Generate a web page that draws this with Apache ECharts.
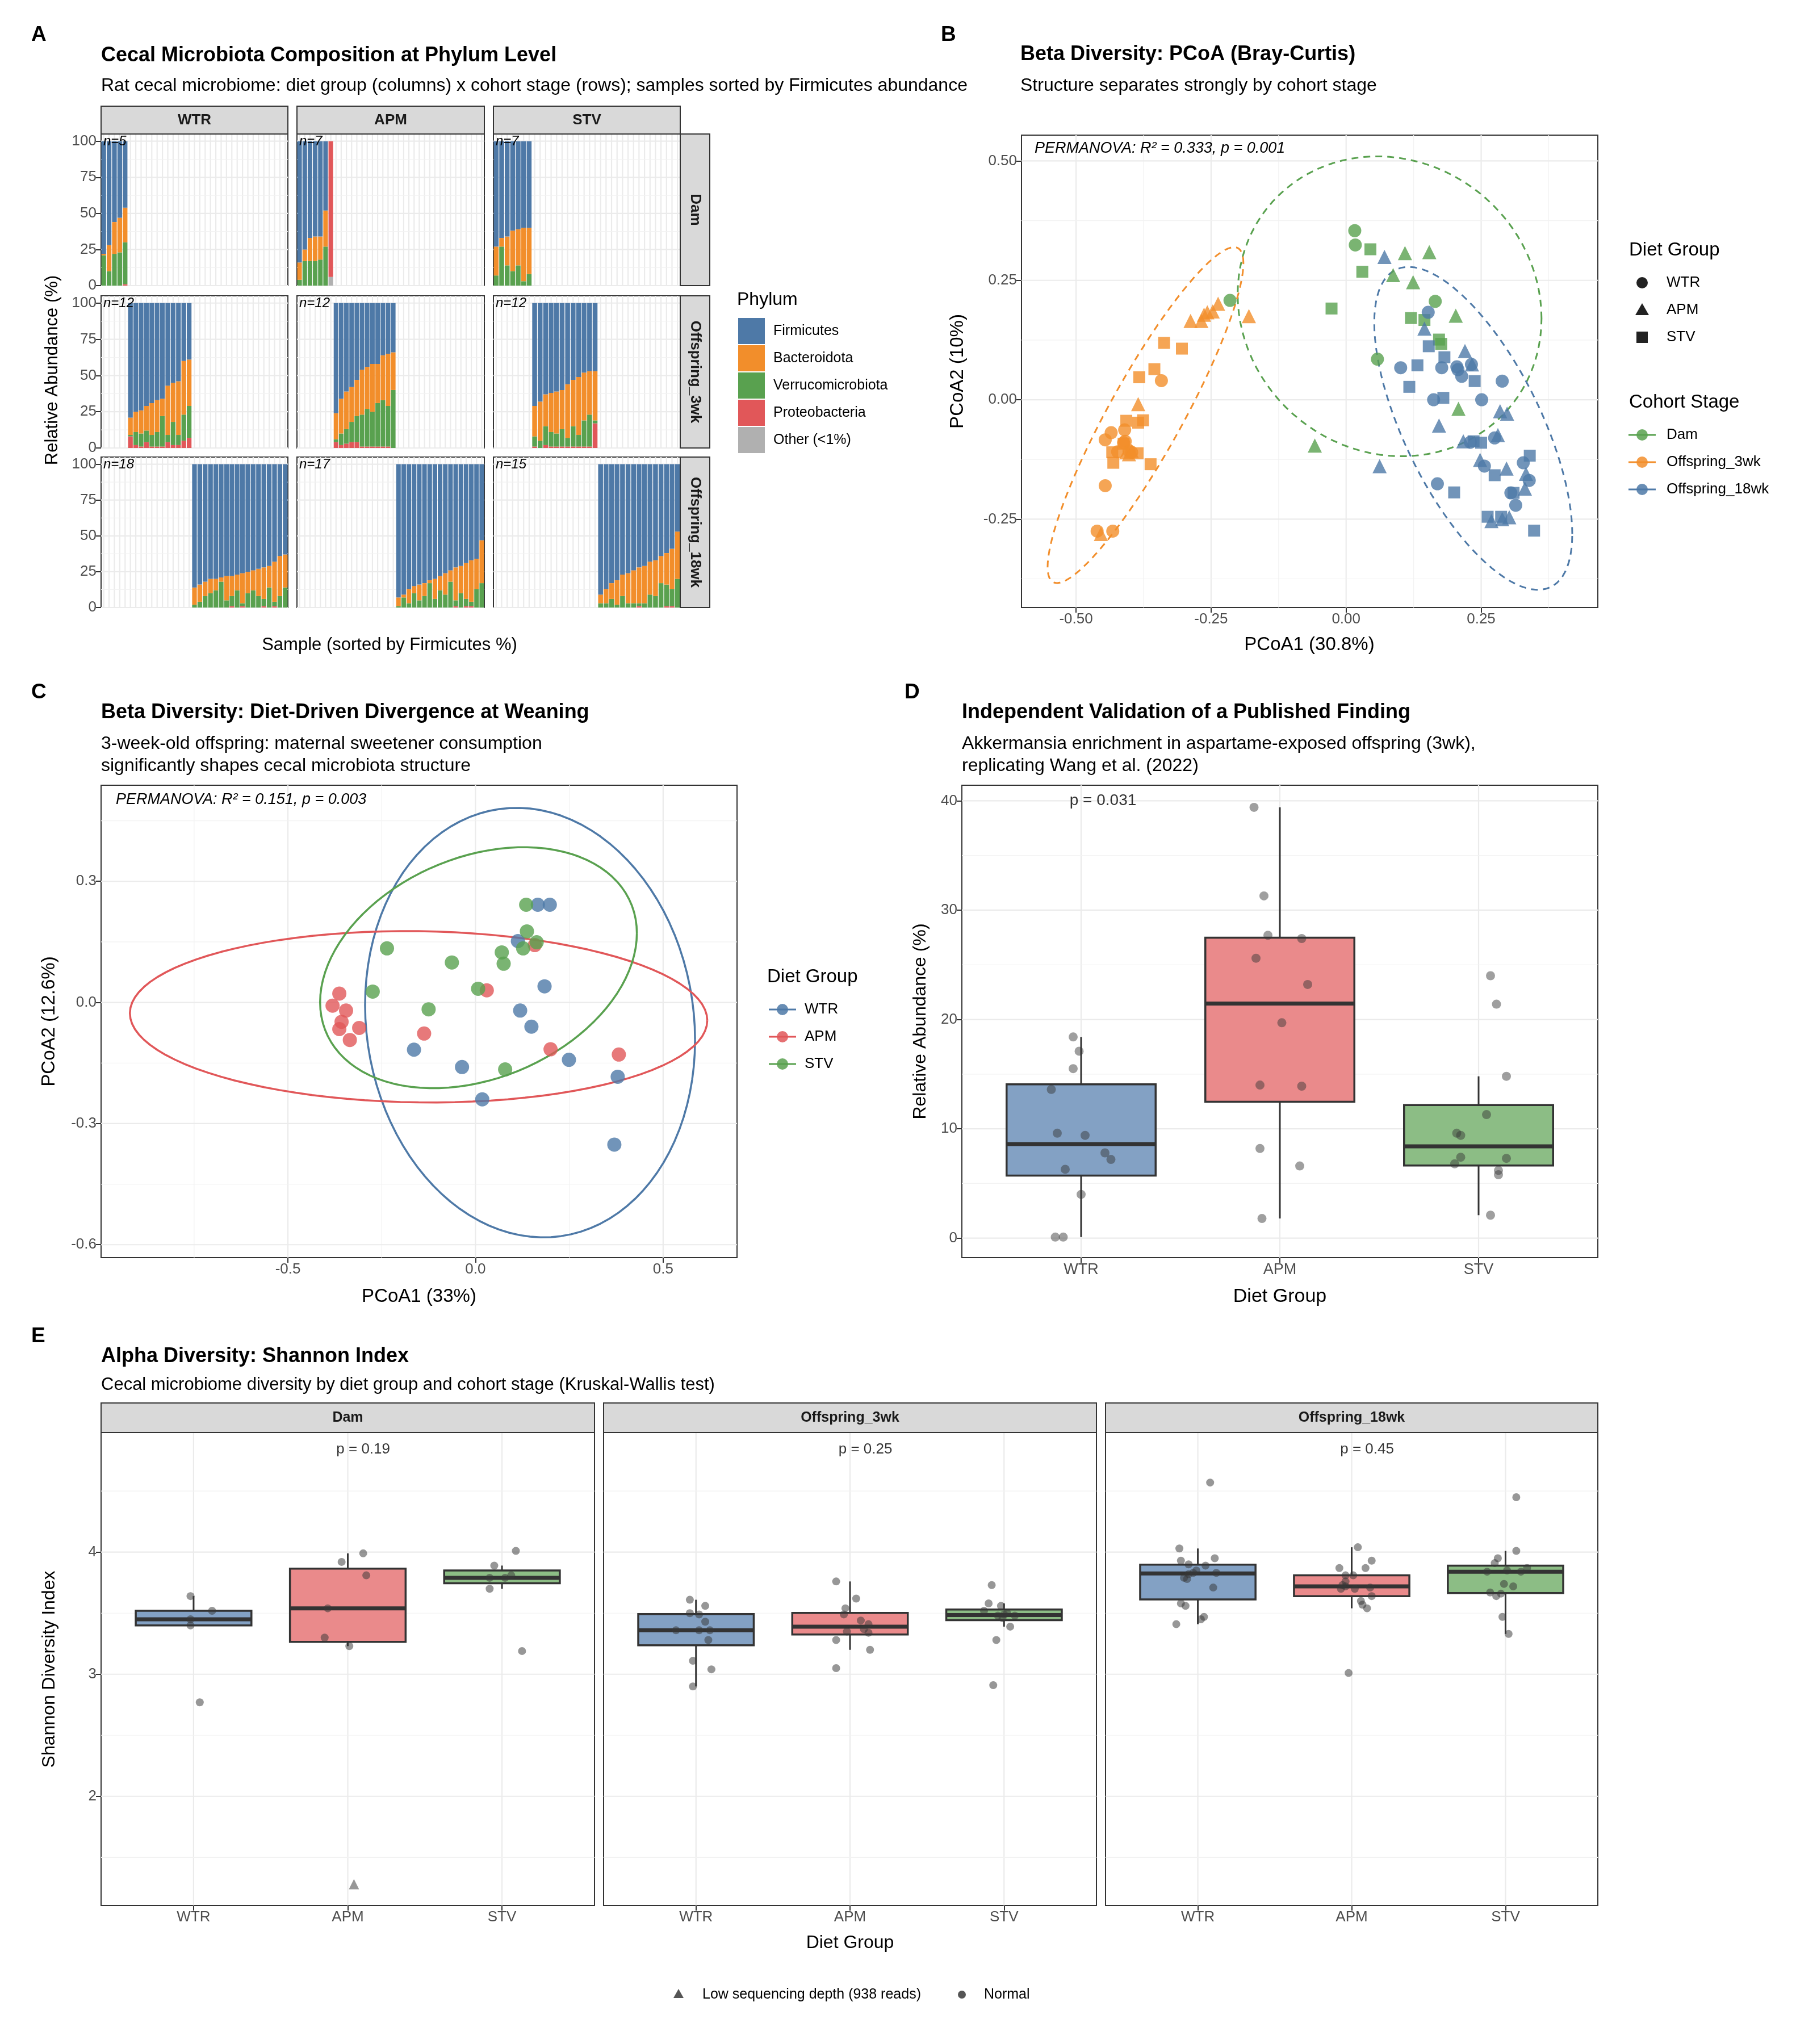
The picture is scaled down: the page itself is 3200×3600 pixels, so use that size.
<!DOCTYPE html>
<html><head><meta charset="utf-8">
<script src="https://cdn.jsdelivr.net/npm/echarts@6/dist/echarts.min.js"></script>
<style>html,body{margin:0;background:#fff}#c{width:3200px;height:3600px}</style></head>
<body><div id="c"></div><script>
const FONT='Liberation Sans, Arial, sans-serif';
// ---------- Panel A data ----------
const diets=['WTR','APM','STV'];
const stages=['Dam','Offspring_3wk','Offspring_18wk'];
const phylumNames=['Firmicutes','Bacteroidota','Verrucomicrobiota','Proteobacteria','Other (<1%)'];
const phylumColors=['#4E79A7','#F28E2B','#59A14F','#E15759','#B0B0B0'];
const WTR_Dam_firm=[78,72,56,53,46], WTR_Dam_bact=[1,18,22,24,24], WTR_Dam_verr=[21,10,22,23,29], WTR_Dam_prot=[0,0,0,0,1], WTR_Dam_other=[0,0,0,0,0];
const APM_Dam_firm=[84,75,67,66,66,48,0], APM_Dam_bact=[12,8,16,17,16,25,0], APM_Dam_verr=[4,17,17,17,18,27,0], APM_Dam_prot=[0,0,0,0,0,0,94], APM_Dam_other=[0,0,0,0,0,0,6];
const STV_Dam_firm=[73,67,66,62,61,60,60], STV_Dam_bact=[20,6,20,28,25,37,32], STV_Dam_verr=[7,27,14,10,14,3,8], STV_Dam_prot=[0,0,0,0,0,0,0], STV_Dam_other=[0,0,0,0,0,0,0];
const WTR_3wk_firm=[79,75,74,71,69,67,66,57,55,54,40,39], WTR_3wk_bact=[12,14,16,17,22,22,12,34,27,37,37,32], WTR_3wk_verr=[1,9,9,8,8,10,21,5,16,7,18,22], WTR_3wk_prot=[8,2,1,4,1,1,1,4,2,2,5,7], WTR_3wk_other=[0,0,0,0,0,0,0,0,0,0,0,0];
const APM_3wk_firm=[76,66,61,58,53,46,44,42,42,36,35,34], APM_3wk_bact=[18,24,26,24,25,31,29,33,27,31,36,26], APM_3wk_verr=[2,8,10,14,18,22,26,24,30,32,28,40], APM_3wk_prot=[4,2,3,4,4,1,1,1,1,1,1,0], APM_3wk_other=[0,0,0,0,0,0,0,0,0,0,0,0];
const STV_3wk_firm=[71,68,63,62,61,60,56,53,51,48,47,47], STV_3wk_bact=[21,27,22,27,29,27,37,32,40,33,30,34], STV_3wk_verr=[7,5,13,10,9,12,6,14,8,18,22,2], STV_3wk_prot=[1,0,2,1,1,1,1,1,1,1,1,17], STV_3wk_other=[0,0,0,0,0,0,0,0,0,0,0,0];
const WTR_18wk_firm=[86,84,82,80,80,79,78,78,77,76,75,74,73,72,71,68,64,63], WTR_18wk_bact=[12,12,10,10,8,3,17,14,11,21,15,14,19,22,15,28,28,23], WTR_18wk_verr=[2,4,8,10,12,18,5,7,12,2,10,12,8,5,14,3,8,14], WTR_18wk_prot=[0,0,0,0,0,0,0,1,0,1,0,0,0,1,0,1,0,0], WTR_18wk_other=[0,0,0,0,0,0,0,0,0,0,0,0,0,0,0,0,0,0];
const APM_18wk_firm=[93,91,87,85,84,83,81,80,78,76,74,72,71,69,67,66,53], APM_18wk_bact=[6,2,10,5,11,9,2,14,10,15,8,23,19,25,29,21,30], APM_18wk_verr=[1,7,3,10,5,8,17,6,12,9,18,4,10,5,3,13,17], APM_18wk_prot=[0,0,0,0,0,0,0,0,0,0,0,1,0,1,1,0,0], APM_18wk_other=[0,0,0,0,0,0,0,0,0,0,0,0,0,0,0,0,0];
const STV_18wk_firm=[91,87,83,81,77,76,74,72,71,68,67,64,62,59,47], STV_18wk_bact=[6,10,11,17,15,21,23,25,26,23,25,19,22,28,33], STV_18wk_verr=[3,3,6,2,8,3,3,2,3,9,8,17,15,12,20], STV_18wk_prot=[0,0,0,0,0,0,0,1,0,0,0,0,1,1,0], STV_18wk_other=[0,0,0,0,0,0,0,0,0,0,0,0,0,0,0];
const A_yTicks=[0,25,50,75,100];
// ---------- Panel B data (PCoA1, PCoA2) ----------
const B_Dam_WTR=[[0.016,0.354],[0.017,0.324],[-0.215,0.208],[0.165,0.206],[0.058,0.085]];
const B_Dam_APM=[[0.109,0.307],[0.154,0.309],[0.087,0.261],[0.124,0.246],[0.203,0.176],[0.208,-0.019],[-0.058,-0.096]];
const B_Dam_STV=[[0.045,0.315],[0.030,0.268],[-0.027,0.191],[0.120,0.171],[0.145,0.167],[0.176,0.117],[0.172,0.126]];
const B_3wk_WTR=[[-0.342,0.040],[-0.435,-0.069],[-0.446,-0.084],[-0.410,-0.063],[-0.409,-0.087],[-0.423,-0.109],[-0.402,-0.107],[-0.446,-0.180],[-0.461,-0.275],[-0.432,-0.275],[-0.397,-0.110],[-0.412,-0.090]];
const B_3wk_APM=[[-0.385,-0.009],[-0.288,0.165],[-0.268,0.165],[-0.257,0.183],[-0.247,0.185],[-0.237,0.201],[-0.180,0.175],[-0.402,-0.114],[-0.407,-0.110],[-0.454,-0.281],[-0.263,0.178],[-0.397,-0.107]];
const B_3wk_STV=[[-0.337,0.119],[-0.304,0.107],[-0.355,0.064],[-0.383,0.047],[-0.407,-0.044],[-0.376,-0.043],[-0.385,-0.048],[-0.433,-0.110],[-0.431,-0.132],[-0.386,-0.112],[-0.362,-0.135],[-0.412,-0.092]];
const B_18wk_WTR=[[0.152,0.183],[0.101,0.067],[0.177,0.067],[0.205,0.069],[0.214,0.049],[0.232,0.074],[0.289,0.039],[0.162,0],[0.251,0],[0.275,-0.080],[0.230,-0.089],[0.256,-0.139],[0.169,-0.176],[0.328,-0.132],[0.339,-0.169],[0.305,-0.195],[0.314,-0.221],[0.207,0.063]];
const B_18wk_APM=[[0.071,0.299],[0.145,0.149],[0.220,0.102],[0.233,0.074],[0.285,-0.024],[0.298,-0.029],[0.172,-0.054],[0.281,-0.074],[0.217,-0.087],[0.248,-0.126],[0.297,-0.144],[0.333,-0.155],[0.331,-0.186],[0.269,-0.254],[0.302,-0.246],[0.062,-0.139],[0.289,-0.250]];
const B_18wk_STV=[[0.153,0.112],[0.182,0.089],[0.132,0.072],[0.238,0.039],[0.117,0.027],[0.180,0.004],[0.250,-0.090],[0.236,-0.087],[0.340,-0.117],[0.275,-0.158],[0.310,-0.195],[0.200,-0.194],[0.262,-0.245],[0.287,-0.245],[0.348,-0.274]];
const B_xTicks=[-0.5,-0.25,0,0.25], B_yTicks=[-0.25,0,0.25,0.5];
// ---------- Panel C data ----------
const C_WTR=[[0.166,0.242],[0.198,0.242],[0.113,0.152],[0.184,0.040],[0.119,-0.020],[0.149,-0.060],[-0.164,-0.117],[-0.036,-0.160],[0.249,-0.142],[0.379,-0.184],[0.018,-0.240],[0.370,-0.352]];
const C_APM=[[-0.363,0.022],[-0.381,-0.008],[-0.345,-0.020],[-0.357,-0.048],[-0.363,-0.066],[-0.310,-0.063],[-0.335,-0.093],[-0.137,-0.077],[0.030,0.030],[0.158,0.142],[0.200,-0.116],[0.382,-0.129]];
const C_STV=[[0.135,0.242],[0.137,0.176],[0.163,0.149],[0.127,0.134],[0.070,0.124],[0.075,0.096],[-0.236,0.134],[-0.063,0.099],[-0.274,0.027],[0.007,0.034],[-0.125,-0.017],[0.079,-0.166]];
const C_xTicks=[-0.5,0,0.5], C_yTicks=[-0.6,-0.3,0,0.3];
// ---------- Panel D data (Akkermansia %, jitter offset) ----------
const D_WTR=[18.4,17.1,15.5,13.6,9.6,9.4,7.8,7.2,6.3,4.0,0.1,0.1];
const D_WTR_jit=[-0.04,-0.01,-0.04,-0.15,-0.12,0.02,0.12,0.15,-0.08,0.0,-0.13,-0.09];
const D_APM=[39.4,31.3,27.7,27.4,25.6,23.2,19.7,14.0,13.9,8.2,6.6,1.8];
const D_APM_jit=[-0.13,-0.08,-0.06,0.11,-0.12,0.14,0.01,-0.10,0.11,-0.10,0.10,-0.09];
const D_STV=[24.0,21.4,14.8,11.3,9.6,9.4,7.4,7.3,6.8,6.2,5.8,2.1];
const D_STV_jit=[0.06,0.09,0.14,0.04,-0.11,-0.09,-0.09,0.14,-0.12,0.10,0.10,0.06];
const D_yTicks=[0,10,20,30,40];
// ---------- Panel E data (Shannon, jitter offset) ----------
const E_Dam_WTR=[3.64,3.52,3.45,3.40,2.77], E_Dam_WTR_jit=[-0.02,0.12,-0.02,-0.02,0.04];
const E_Dam_APM=[3.99,3.92,3.81,3.54,3.30,3.23,1.28], E_Dam_APM_jit=[0.10,-0.04,0.12,-0.13,-0.15,0.01,0.04];
const E_Dam_APM_low=[0,0,0,0,0,0,1];
const E_Dam_STV=[4.01,3.89,3.79,3.79,3.81,3.70,3.19], E_Dam_STV_jit=[0.09,-0.05,-0.08,0.02,0.06,-0.08,0.13];
const E_3wk_WTR=[3.61,3.56,3.50,3.49,3.43,3.36,3.36,3.36,3.28,3.11,3.04,2.90], E_3wk_WTR_jit=[-0.04,0.06,-0.04,0.02,0.06,-0.13,0.02,0.09,0.08,-0.02,0.10,-0.02];
const E_3wk_APM=[3.76,3.62,3.54,3.44,3.41,3.35,3.34,3.28,3.20,3.05,3.49,3.37], E_3wk_APM_jit=[-0.09,0.04,-0.03,0.07,0.12,-0.02,0.12,-0.09,0.13,-0.09,-0.04,0.09];
const E_3wk_STV=[3.73,3.58,3.56,3.52,3.49,3.48,3.46,3.39,3.28,2.91,3.50,3.48], E_3wk_STV_jit=[-0.08,-0.10,-0.02,-0.13,0,0.07,-0.01,0.04,-0.05,-0.07,0.02,-0.04];
const E_18wk_WTR=[4.57,4.03,3.95,3.93,3.90,3.89,3.85,3.79,3.82,3.83,3.71,3.58,3.56,3.47,3.45,3.41,3.83,3.78], E_18wk_WTR_jit=[0.08,-0.12,0.11,-0.11,-0.06,0.05,-0.01,-0.09,-0.06,0.12,0.10,-0.11,-0.08,0.04,0.02,-0.14,-0.03,-0.07];
const E_18wk_APM=[4.04,3.93,3.87,3.87,3.81,3.81,3.76,3.72,3.70,3.70,3.71,3.64,3.60,3.57,3.54,3.01,3.73], E_18wk_APM_jit=[0.04,0.13,-0.08,0.09,0.01,-0.04,-0.04,-0.04,-0.07,0.02,0.12,0.13,0.06,0.07,0.10,-0.02,-0.06];
const E_18wk_STV=[4.45,4.01,3.95,3.91,3.87,3.85,3.84,3.74,3.72,3.67,3.66,3.64,3.47,3.33,3.84], E_18wk_STV_jit=[0.07,0.07,-0.05,-0.07,0.14,0.01,-0.12,-0.01,0.05,-0.10,-0.03,-0.06,-0.02,0.02,0.10];
const E_pLabels=['p = 0.19','p = 0.25','p = 0.45'];
const E_yTicks=[2,3,4];

// ---------- helpers ----------
const dietColors=['#4E79A7','#E15759','#59A14F'];
const dietFills=['#83A1C4','#EA8A8B','#8CBD85'];
const cohortColors=['#59A14F','#F28E2B','#4E79A7'];
const lab={color:'#4D4D4D',fontSize:26,fontFamily:FONT};
const grids=[],xAxes=[],yAxes=[],series=[],graphic=[];
function minorOf(t,min,max){const s=t[1]-t[0],out=[];for(let v=t[0]-s/2;v<=max;v+=s){if(v>=min)out.push(+v.toFixed(6));}return out.filter(v=>!t.includes(v));}
function addGrid(l,t,w,h){grids.push({left:l,top:t,width:w,height:h,show:true,borderColor:'#333',borderWidth:2,backgroundColor:'#fff'});return grids.length-1;}
function valAxis(gi,min,max,ticks,fmt,show){return {gridIndex:gi,type:'value',min,max,axisLine:{show:false,onZero:false},splitLine:{show:false},
 axisTick:{show:show,length:9,lineStyle:{color:'#333',width:2},customValues:ticks},
 axisLabel:Object.assign({show:show,customValues:ticks,formatter:fmt,margin:8},lab)};}
function gridLines(gi,xMaj,xMin,yMaj,yMin,xRef,yRef){
 const d=[];xMaj.forEach(v=>d.push([v,yRef,0,0]));xMin.forEach(v=>d.push([v,yRef,0,1]));yMaj.forEach(v=>d.push([xRef,v,1,0]));yMin.forEach(v=>d.push([xRef,v,1,1]));
 series.push({type:'custom',xAxisIndex:gi,yAxisIndex:gi,silent:true,z:0,animation:false,data:d,renderItem:(p,api)=>{
  const cs=p.coordSys,pt=api.coord([api.value(0),api.value(1)]),isY=api.value(2),mn=api.value(3);
  const sh=isY?{x1:cs.x,y1:pt[1],x2:cs.x+cs.width,y2:pt[1]}:{x1:pt[0],y1:cs.y,x2:pt[0],y2:cs.y+cs.height};
  return {type:'line',shape:sh,style:{stroke:mn?'#F2F2F2':'#EBEBEB',lineWidth:mn?1.2:2.2}};}});}
function text(x,y,s,o){graphic.push({type:'text',x,y,rotation:(o&&o.rot)||0,style:{text:s,fill:(o&&o.fill)||'#000',font:`${(o&&o.style)||''} ${(o&&o.bold)?'bold':''} ${(o&&o.size)||30}px ${FONT}`,textAlign:(o&&o.align)||'left',textVerticalAlign:'middle'},z:100});}
function rect(x,y,w,h,fill,stroke){graphic.push({type:'rect',shape:{x,y,width:w,height:h},style:{fill,stroke:stroke||null,lineWidth:2},z:90});}
function q7(a,p){const s=[...a].sort((x,y)=>x-y),h=(s.length-1)*p,lo=Math.floor(h);return s[lo]+(h-lo)*((s[lo+1]??s[lo])-s[lo]);}
function boxStats(a){const q1=q7(a,.25),md=q7(a,.5),q3=q7(a,.75),iqr=q3-q1;const inr=a.filter(v=>v>=q1-1.5*iqr&&v<=q3+1.5*iqr);return [Math.min(...inr),q1,md,q3,Math.max(...inr)];}
function boxSeries(gi,items){series.push({type:'custom',xAxisIndex:gi,yAxisIndex:gi,z:2,animation:false,silent:true,data:items,renderItem:(p,api)=>{
 const x=api.value(0),c=api.value(6),hw=api.size([0.75,0])[0]/2;const P=k=>api.coord([x,api.value(k)]);
 const lo=P(1),q1=P(2),md=P(3),q3=P(4),hi=P(5),cx=md[0];
 return {type:'group',children:[
  {type:'line',shape:{x1:cx,y1:hi[1],x2:cx,y2:q3[1]},style:{stroke:'#333',lineWidth:3}},
  {type:'line',shape:{x1:cx,y1:q1[1],x2:cx,y2:lo[1]},style:{stroke:'#333',lineWidth:3}},
  {type:'rect',shape:{x:cx-hw,y:q3[1],width:2*hw,height:q1[1]-q3[1]},style:{fill:dietFills[c],stroke:'#333',lineWidth:3.5}},
  {type:'line',shape:{x1:cx-hw,y1:md[1],x2:cx+hw,y2:md[1]},style:{stroke:'#333',lineWidth:7}}]};}});}
function ellipse(pts,level){const n=pts.length,mx=pts.reduce((s,p)=>s+p[0],0)/n,my=pts.reduce((s,p)=>s+p[1],0)/n;
 let sxx=0,syy=0,sxy=0;pts.forEach(p=>{sxx+=(p[0]-mx)**2;syy+=(p[1]-my)**2;sxy+=(p[0]-mx)*(p[1]-my);});sxx/=n-1;syy/=n-1;sxy/=n-1;
 const d=n-1,F=(d/2)*(Math.pow(1-level,-2/d)-1),r=Math.sqrt(2*F);const a=Math.sqrt(sxx),b=sxy/a,c=Math.sqrt(syy-b*b);
 const out=[];for(let i=0;i<=100;i++){const t=2*Math.PI*i/100,u=Math.cos(t),v=Math.sin(t);out.push([mx+r*a*u,my+r*(b*u+c*v)]);}return out;}

// ---------- Panel A ----------
const Adata={};
diets.forEach(d=>{Adata[d]={};['Dam','3wk','18wk'].forEach((s,i)=>{Adata[d][stages[i]]=['firm','bact','verr','prot','other'].map(k=>window.eval(`${d}_${s}_${k}`));});});
const colX=[[178,507],[523,853],[869,1198]],rowY=[[236,503],[521,789],[805,1070]];
stages.forEach((s,r)=>diets.forEach((d,c)=>{
 const gi=addGrid(colX[c][0],rowY[r][0],colX[c][1]-colX[c][0],rowY[r][1]-rowY[r][0]);
 const counts=stages.map(st=>Adata[d][st][0].length),N=counts.reduce((a,b)=>a+b,0),off=counts.slice(0,r).reduce((a,b)=>a+b,0);
 const cats=Array.from({length:N},(_,i)=>i);
 xAxes.push({gridIndex:gi,type:'category',data:cats,boundaryGap:true,axisLine:{show:false,onZero:false},axisTick:{show:false},axisLabel:{show:false},splitLine:{show:false}});
 yAxes.push(valAxis(gi,0,105,A_yTicks,v=>String(v),c===0));
 gridLines(gi,cats,[],A_yTicks,minorOf(A_yTicks,0,105),0,50);
 [4,3,2,1,0].forEach(k=>{const data=Array(N).fill('-');Adata[d][s][k].forEach((v,i)=>data[off+i]=v);
  series.push({type:'bar',name:phylumNames[k],xAxisIndex:gi,yAxisIndex:gi,stack:'A'+gi,data,barCategoryGap:'12%',itemStyle:{color:phylumColors[k]},silent:true,animation:false,z:2});});
 text(colX[c][0]+4,rowY[r][0]+13,'n='+counts[r],{size:24,style:'italic'});
}));
diets.forEach((d,c)=>{rect(colX[c][0],187,colX[c][1]-colX[c][0],49,'#D9D9D9','#333');text((colX[c][0]+colX[c][1])/2,212,d,{size:26,bold:1,align:'center',fill:'#1A1A1A'});});
stages.forEach((s,r)=>{rect(1198,rowY[r][0],52,rowY[r][1]-rowY[r][0],'#D9D9D9','#333');text(1224,(rowY[r][0]+rowY[r][1])/2,s,{size:26,bold:1,align:'center',rot:-Math.PI/2,fill:'#1A1A1A'});});
text(55,62,'A',{size:37,bold:1});
text(178,98,'Cecal Microbiota Composition at Phylum Level',{size:36,bold:1});
text(178,151,'Rat cecal microbiome: diet group (columns) x cohort stage (rows); samples sorted by Firmicutes abundance',{size:32});
text(92,652,'Relative Abundance (%)',{size:31,align:'center',rot:Math.PI/2});
text(686,1136,'Sample (sorted by Firmicutes %)',{size:31,align:'center'});
text(1298,528,'Phylum',{size:32});
phylumNames.forEach((p,i)=>{const y=583+48*i;rect(1300,y-23,47,46,phylumColors[i]);text(1362,y,p,{size:25});});

// ---------- Panel B ----------
{const gi=addGrid(1799,238,1015,832);
 xAxes.push(valAxis(gi,-0.601,0.466,B_xTicks,v=>v.toFixed(2),true));
 yAxes.push(valAxis(gi,-0.435,0.554,B_yTicks,v=>v.toFixed(2),true));
 gridLines(gi,B_xTicks,minorOf(B_xTicks,-0.601,0.466),B_yTicks,minorOf(B_yTicks,-0.435,0.554),0,0);
 const groups=[[B_Dam_WTR,B_Dam_APM,B_Dam_STV],[B_3wk_WTR,B_3wk_APM,B_3wk_STV],[B_18wk_WTR,B_18wk_APM,B_18wk_STV]];
 const shapes=['circle','triangle','rect'],sizes=[23,25,21];
 groups.forEach((g,ci)=>{
  series.push({type:'line',xAxisIndex:gi,yAxisIndex:gi,data:ellipse(g.flat(),0.95),showSymbol:false,symbol:'none',silent:true,animation:false,z:3,lineStyle:{color:cohortColors[ci],width:3,type:[12,9]}});
  g.forEach((pts,di)=>series.push({type:'scatter',xAxisIndex:gi,yAxisIndex:gi,data:pts,symbol:shapes[di],symbolSize:sizes[di],itemStyle:{color:cohortColors[ci],opacity:0.8},silent:true,animation:false,z:4}));});
 text(1657,62,'B',{size:37,bold:1});
 text(1797,96,'Beta Diversity: PCoA (Bray-Curtis)',{size:36,bold:1});
 text(1797,151,'Structure separates strongly by cohort stage',{size:32});
 text(1822,261,'PERMANOVA: R² = 0.333, p = 0.001',{size:27,style:'italic'});
 text(2306,1136,'PCoA1 (30.8%)',{size:33,align:'center'});
 text(1687,654,'PCoA2 (10%)',{size:33,align:'center',rot:Math.PI/2});
 text(2869,441,'Diet Group',{size:33});
 diets.forEach((d,i)=>{const y=498+48*i;
  if(i===0)graphic.push({type:'circle',shape:{cx:2892,cy:y,r:10},style:{fill:'#222'},z:90});
  if(i===1)graphic.push({type:'polygon',shape:{points:[[2892,y-12],[2904,y+9],[2880,y+9]]},style:{fill:'#222'},z:90});
  if(i===2)rect(2882,y-10,20,20,'#222');
  text(2935,y,d,{size:26});});
 text(2869,709,'Cohort Stage',{size:33});
 stages.forEach((s,i)=>{const y=766+48*i;
  graphic.push({type:'line',shape:{x1:2868,y1:y,x2:2916,y2:y},style:{stroke:cohortColors[i],lineWidth:3},z:90});
  graphic.push({type:'circle',shape:{cx:2892,cy:y,r:10},style:{fill:cohortColors[i],opacity:0.85},z:91});
  text(2935,y,s,{size:26});});
}

// ---------- Panel C ----------
{const gi=addGrid(178,1383,1120,832);
 xAxes.push(valAxis(gi,-0.998,0.697,C_xTicks,v=>v.toFixed(1),true));
 yAxes.push(valAxis(gi,-0.632,0.538,C_yTicks,v=>v.toFixed(1),true));
 gridLines(gi,C_xTicks,minorOf(C_xTicks,-0.998,0.697),C_yTicks,minorOf(C_yTicks,-0.632,0.538),0,0);
 [C_WTR,C_APM,C_STV].forEach((pts,di)=>{
  series.push({type:'line',xAxisIndex:gi,yAxisIndex:gi,data:ellipse(pts,0.95),showSymbol:false,symbol:'none',silent:true,animation:false,z:3,lineStyle:{color:dietColors[di],width:3.5}});
  series.push({type:'scatter',xAxisIndex:gi,yAxisIndex:gi,data:pts,symbolSize:25,itemStyle:{color:dietColors[di],opacity:0.8},silent:true,animation:false,z:4});});
 text(55,1220,'C',{size:37,bold:1});
 text(178,1255,'Beta Diversity: Diet-Driven Divergence at Weaning',{size:36,bold:1});
 text(178,1310,'3-week-old offspring: maternal sweetener consumption',{size:32});
 text(178,1349,'significantly shapes cecal microbiota structure',{size:32});
 text(204,1408,'PERMANOVA: R² = 0.151, p = 0.003',{size:27,style:'italic'});
 text(738,2284,'PCoA1 (33%)',{size:33,align:'center'});
 text(87,1799,'PCoA2 (12.6%)',{size:33,align:'center',rot:Math.PI/2});
 text(1351,1721,'Diet Group',{size:33});
 diets.forEach((d,i)=>{const y=1778+48*i;
  graphic.push({type:'line',shape:{x1:1354,y1:y,x2:1402,y2:y},style:{stroke:dietColors[i],lineWidth:3},z:90});
  graphic.push({type:'circle',shape:{cx:1378,cy:y,r:10},style:{fill:dietColors[i],opacity:0.85},z:91});
  text(1417,y,d,{size:26});});
}

// ---------- Panel D ----------
{const gi=addGrid(1694,1383,1120,832);
 xAxes.push(valAxis(gi,-0.6,2.6,[0,1,2],v=>diets[v],true));
 xAxes[xAxes.length-1].axisLabel.fontSize=27;
 yAxes.push(valAxis(gi,-1.78,41.42,D_yTicks,v=>String(v),true));
 gridLines(gi,[0,1,2],[],D_yTicks,minorOf(D_yTicks,-1.78,41.42),0,0);
 const vals=[D_WTR,D_APM,D_STV],jits=[D_WTR_jit,D_APM_jit,D_STV_jit];
 boxSeries(gi,vals.map((v,i)=>[i,...boxStats(v),i]));
 series.push({type:'scatter',xAxisIndex:gi,yAxisIndex:gi,z:5,silent:true,animation:false,symbolSize:16,itemStyle:{color:'rgba(55,55,55,0.6)'},
  data:vals.flatMap((v,i)=>v.map((y,k)=>[i+jits[i][k],y]))});
 series.push({type:'scatter',xAxisIndex:gi,yAxisIndex:gi,z:6,silent:true,symbolSize:0,data:[[0.11,40]],label:{show:true,position:'inside',formatter:'p = 0.031',color:'#000',fontSize:28,fontFamily:FONT}});
 text(1593,1220,'D',{size:37,bold:1});
 text(1694,1255,'Independent Validation of a Published Finding',{size:36,bold:1});
 text(1694,1310,'Akkermansia enrichment in aspartame-exposed offspring (3wk),',{size:32});
 text(1694,1349,'replicating Wang et al. (2022)',{size:32});
 text(2254,2284,'Diet Group',{size:34,align:'center'});
 text(1621,1799,'Relative Abundance (%)',{size:32,align:'center',rot:Math.PI/2});
}

// ---------- Panel E ----------
{const fx=[[178,1047],[1063,1931],[1947,2814]];
 const Evals=[[E_Dam_WTR,E_Dam_APM,E_Dam_STV],[E_3wk_WTR,E_3wk_APM,E_3wk_STV],[E_18wk_WTR,E_18wk_APM,E_18wk_STV]];
 const Ejit=[[E_Dam_WTR_jit,E_Dam_APM_jit,E_Dam_STV_jit],[E_3wk_WTR_jit,E_3wk_APM_jit,E_3wk_STV_jit],[E_18wk_WTR_jit,E_18wk_APM_jit,E_18wk_STV_jit]];
 stages.forEach((s,si)=>{
  const gi=addGrid(fx[si][0],2523,fx[si][1]-fx[si][0],833);
  xAxes.push(valAxis(gi,-0.6,2.6,[0,1,2],v=>diets[v],true));
  yAxes.push(valAxis(gi,1.106,4.98,E_yTicks,v=>String(v),si===0));
  gridLines(gi,[0,1,2],[],E_yTicks,minorOf(E_yTicks,1.106,4.98),0,3);
  boxSeries(gi,Evals[si].map((v,i)=>[i,...boxStats(v),i]));
  const pts=[];Evals[si].forEach((v,i)=>v.forEach((y,k)=>{const low=si===0&&i===1&&E_Dam_APM_low[k];pts.push({value:[i+Ejit[si][i][k],y],symbol:low?'triangle':'circle',symbolSize:low?18:14});}));
  series.push({type:'scatter',xAxisIndex:gi,yAxisIndex:gi,z:5,silent:true,animation:false,itemStyle:{color:'rgba(55,55,55,0.65)'},data:pts});
  series.push({type:'scatter',xAxisIndex:gi,yAxisIndex:gi,z:6,silent:true,symbolSize:0,data:[[1.1,4.84]],label:{show:true,position:'inside',formatter:E_pLabels[si],color:'#000',fontSize:26,fontFamily:FONT}});
  rect(fx[si][0],2471,fx[si][1]-fx[si][0],52,'#D9D9D9','#333');
  text((fx[si][0]+fx[si][1])/2,2497,s,{size:25,bold:1,align:'center',fill:'#1A1A1A'});
 });
 text(55,2354,'E',{size:37,bold:1});
 text(178,2389,'Alpha Diversity: Shannon Index',{size:36,bold:1});
 text(178,2439,'Cecal microbiome diversity by diet group and cohort stage (Kruskal-Wallis test)',{size:31});
 text(1497,3422,'Diet Group',{size:32,align:'center'});
 text(87,2940,'Shannon Diversity Index',{size:32,align:'center',rot:Math.PI/2});
 graphic.push({type:'polygon',shape:{points:[[1195,3503],[1204,3519],[1186,3519]]},style:{fill:'#555'},z:90});
 text(1237,3513,'Low sequencing depth (938 reads)',{size:25});
 graphic.push({type:'circle',shape:{cx:1694,cy:3513,r:7},style:{fill:'#555'},z:90});
 text(1733,3513,'Normal',{size:25});
}

const chart=echarts.init(document.getElementById('c'),null,{renderer:'canvas'});
chart.setOption({animation:false,backgroundColor:'#fff',grid:grids,xAxis:xAxes,yAxis:yAxes,series,graphic});
</script></body></html>
